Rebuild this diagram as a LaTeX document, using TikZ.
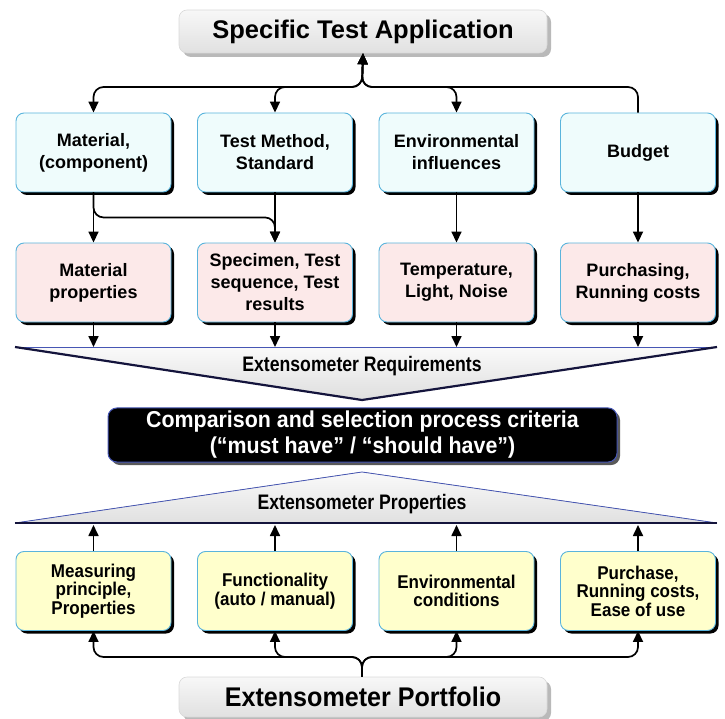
\documentclass[tikz,border=0pt]{standalone}
\usepackage{fontspec}
\setmainfont{Liberation Sans}
\newfontfamily\narrowfont{Liberation Sans}[FakeStretch=0.84]
\newfontfamily\semifont{Liberation Sans}[FakeStretch=0.93]
\newfontfamily\yelfont{Liberation Sans}[FakeStretch=0.92]
\usetikzlibrary{arrows.meta,shadows,calc}
\definecolor{boxblue}{HTML}{5AB4DC}
\definecolor{cyanfill}{HTML}{EFFCFC}
\definecolor{pinkfill}{HTML}{FCE9E9}
\definecolor{yellowfill}{HTML}{FFFFCC}
\definecolor{edgenavy}{HTML}{14143C}
\definecolor{edgeblue}{HTML}{4656B4}
\begin{document}
\begin{tikzpicture}[x=1pt,y=-1pt,
  >={Triangle[length=11pt,width=10pt]},
  conn/.style={line width=1.7pt, rounded corners=10pt},
  box/.style={rounded corners=8pt, draw=boxblue, line width=0.9pt,
    minimum width=155pt, minimum height=79pt, align=center, inner sep=2pt,
    font=\bfseries\fontsize{18}{22}\selectfont,
    drop shadow={shadow xshift=3pt, shadow yshift=-3pt, fill=black, opacity=1}},
  cyanbox/.style={box, fill=cyanfill},
  pinkbox/.style={box, fill=pinkfill},
  yellowbox/.style={box, fill=yellowfill, font=\yelfont\bfseries\fontsize{18.5}{18.5}\selectfont},
  graybox/.style={rounded corners=8pt, draw=gray!30, line width=0.6pt,
    top color=gray!6, bottom color=gray!24, align=center,
    drop shadow={shadow xshift=4pt, shadow yshift=-4pt, fill=gray!55, opacity=1}},
  blackbox/.style={rounded corners=9pt, draw=edgeblue, line width=1pt, fill=black,
    text=white, align=center,
    font=\semifont\bfseries\fontsize{23}{26}\selectfont,
    drop shadow={shadow xshift=3pt, shadow yshift=-3pt, fill=gray!70!black, opacity=1}},
  bandlabel/.style={font=\narrowfont\bfseries\fontsize{21}{24}\selectfont, inner sep=0pt}
]
\useasboundingbox (0,0) rectangle (725,719);

% top and bottom boxes
\node[graybox, minimum width=368pt, minimum height=43pt,
  font=\bfseries\fontsize{25.5}{30}\selectfont] (top) at (363,31.5) {Specific Test Application};
\node[graybox, minimum width=368pt, minimum height=40pt,
  font=\semifont\bfseries\fontsize{27}{30}\selectfont] (port) at (363,697) {Extensometer Portfolio};

% row 1
\node[cyanbox] (mat) at (93.5,152.5) {Material,\\(component)};
\node[cyanbox] (tm)  at (275,152.5) {Test Method,\\Standard};
\node[cyanbox] (env) at (456.5,152.5) {Environmental\\influences};
\node[cyanbox] (bud) at (638,152.5) {Budget};

% row 2
\node[pinkbox] (matp) at (93.5,282.5) {Material\\properties};
\node[pinkbox] (spec) at (275,282.5) {Specimen, Test\\sequence, Test\\results};
\node[pinkbox] (temp) at (456.5,282.5) {Temperature,\\Light, Noise};
\node[pinkbox] (purc) at (638,282.5) {Purchasing,\\Running costs};

% requirements funnel
\fill[top color=gray!4, bottom color=gray!26] (15,347) -- (717,347) -- (362,400) -- cycle;
\draw[edgeblue, line width=0.8pt] (15,347) -- (717,347);
\draw[edgenavy, line width=2.2pt, line join=round] (15,347) -- (362,400) -- (717,347);
\node[bandlabel] (req) at (362,366) {Extensometer Requirements};
\coordinate (reqtop) at (362,347);

% criteria box
\node[blackbox, minimum width=509pt, minimum height=52pt] (crit) at (362.5,435)
  {Comparison and selection process criteria\\(“must have” / “should have”)};

% properties triangle
\fill[top color=gray!4, bottom color=gray!24] (15,523) -- (362,472) -- (717,523) -- cycle;
\draw[edgeblue, line width=0.8pt, line join=round] (15,523) -- (362,472) -- (717,523);
\draw[edgenavy, line width=2.2pt] (15,523) -- (717,523);
\node[bandlabel] (prop) at (362,504) {Extensometer Properties};
\coordinate (propbase) at (362,525);

% row 3
\node[yellowbox] (meas) at (93.5,591) {Measuring\\principle,\\Properties};
\node[yellowbox] (func) at (275,591) {Functionality\\(auto / manual)};
\node[yellowbox] (envc) at (456.5,591) {Environmental\\conditions};
\node[yellowbox] (purr) at (638,591) {Purchase,\\Running costs,\\Ease of use};

% top connectors
\coordinate (htop) at (362,87);
\draw[conn,<->] (mat.north) |- (htop) -- (top.south);
\draw[conn,<->] (tm.north) |- (htop) -- (top.south);
\draw[conn,<->] (env.north) |- (htop) -- (top.south);
\draw[conn,->] (bud.north) |- (htop) -- (top.south);

% row1 -> row2
\draw[conn,->] (mat.south) -- (matp.north);
\draw[conn,->] (mat.south) -- ++(0,25) -| (spec.north);
\draw[conn,->] (tm.south) -- (spec.north);
\draw[conn,->] (env.south) -- (temp.north);
\draw[conn,->] (bud.south) -- (purc.north);

% row2 -> funnel
\draw[conn,->] (matp.south) -- (matp.south |- reqtop);
\draw[conn,->] (spec.south) -- (spec.south |- reqtop);
\draw[conn,->] (temp.south) -- (temp.south |- reqtop);
\draw[conn,->] (purc.south) -- (purc.south |- reqtop);

% row3 -> properties
\draw[conn,->] (meas.north) -- (meas.north |- propbase);
\draw[conn,->] (func.north) -- (func.north |- propbase);
\draw[conn,->] (envc.north) -- (envc.north |- propbase);
\draw[conn,->] (purr.north) -- (purr.north |- propbase);

% bottom connectors
\coordinate (hbot) at (362,657);
\draw[conn,->] (port.north -| hbot) -- (hbot) -| (meas.south);
\draw[conn,->] (port.north -| hbot) -- (hbot) -| (func.south);
\draw[conn,->] (port.north -| hbot) -- (hbot) -| (envc.south);
\draw[conn,->] (port.north -| hbot) -- (hbot) -| (purr.south);
\end{tikzpicture}
\end{document}
